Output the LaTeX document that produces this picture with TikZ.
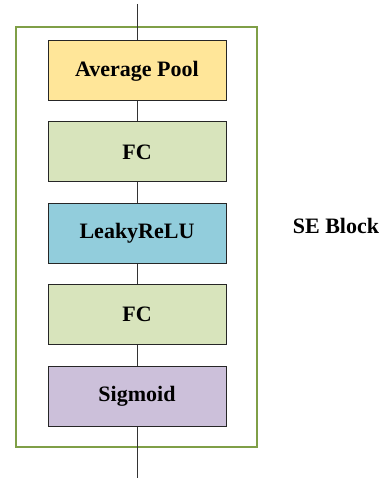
\documentclass[tikz,border=0pt]{standalone}
\usepackage{fontspec}
\setmainfont{Liberation Serif}
\definecolor{cyel}{HTML}{FFE699}
\definecolor{cgrn}{HTML}{D8E4BC}
\definecolor{cblu}{HTML}{92CDDC}
\definecolor{cpur}{HTML}{CCC0DA}
\definecolor{cfrm}{HTML}{7F9F47}
\begin{document}
\begin{tikzpicture}[x=1pt,y=-1pt,
  lbl/.style={font=\fontsize{22}{24}\selectfont\bfseries},
  blk/.style={lbl,draw=black!85,line width=1pt,minimum width=178pt,minimum height=60pt,inner sep=0pt},
  lnk/.style={draw=black!80,line width=0.9pt}]
\useasboundingbox (0,0) rectangle (384,478);
\draw[cfrm,line width=1.3pt] (16,27) rectangle (257,447);
\coordinate (top) at (137,4);
\coordinate (bot) at (137,478);
\node[blk,fill=cyel] (ap) at (137,71) {Average Pool};
\node[blk,fill=cgrn] (fc1) at (137,152) {FC};
\node[blk,fill=cblu] (lr) at (137,233) {LeakyReLU};
\node[blk,fill=cgrn] (fc2) at (137,314) {FC};
\node[blk,fill=cpur] (sg) at (137,396) {Sigmoid};
\node[lbl] (se) at (336,226) {SE Block};
\draw[lnk] (top) -- (ap.north);
\draw[lnk] (ap) -- (fc1);
\draw[lnk] (fc1) -- (lr);
\draw[lnk] (lr) -- (fc2);
\draw[lnk] (fc2) -- (sg);
\draw[lnk] (sg.south) -- (bot);
\end{tikzpicture}
\end{document}
